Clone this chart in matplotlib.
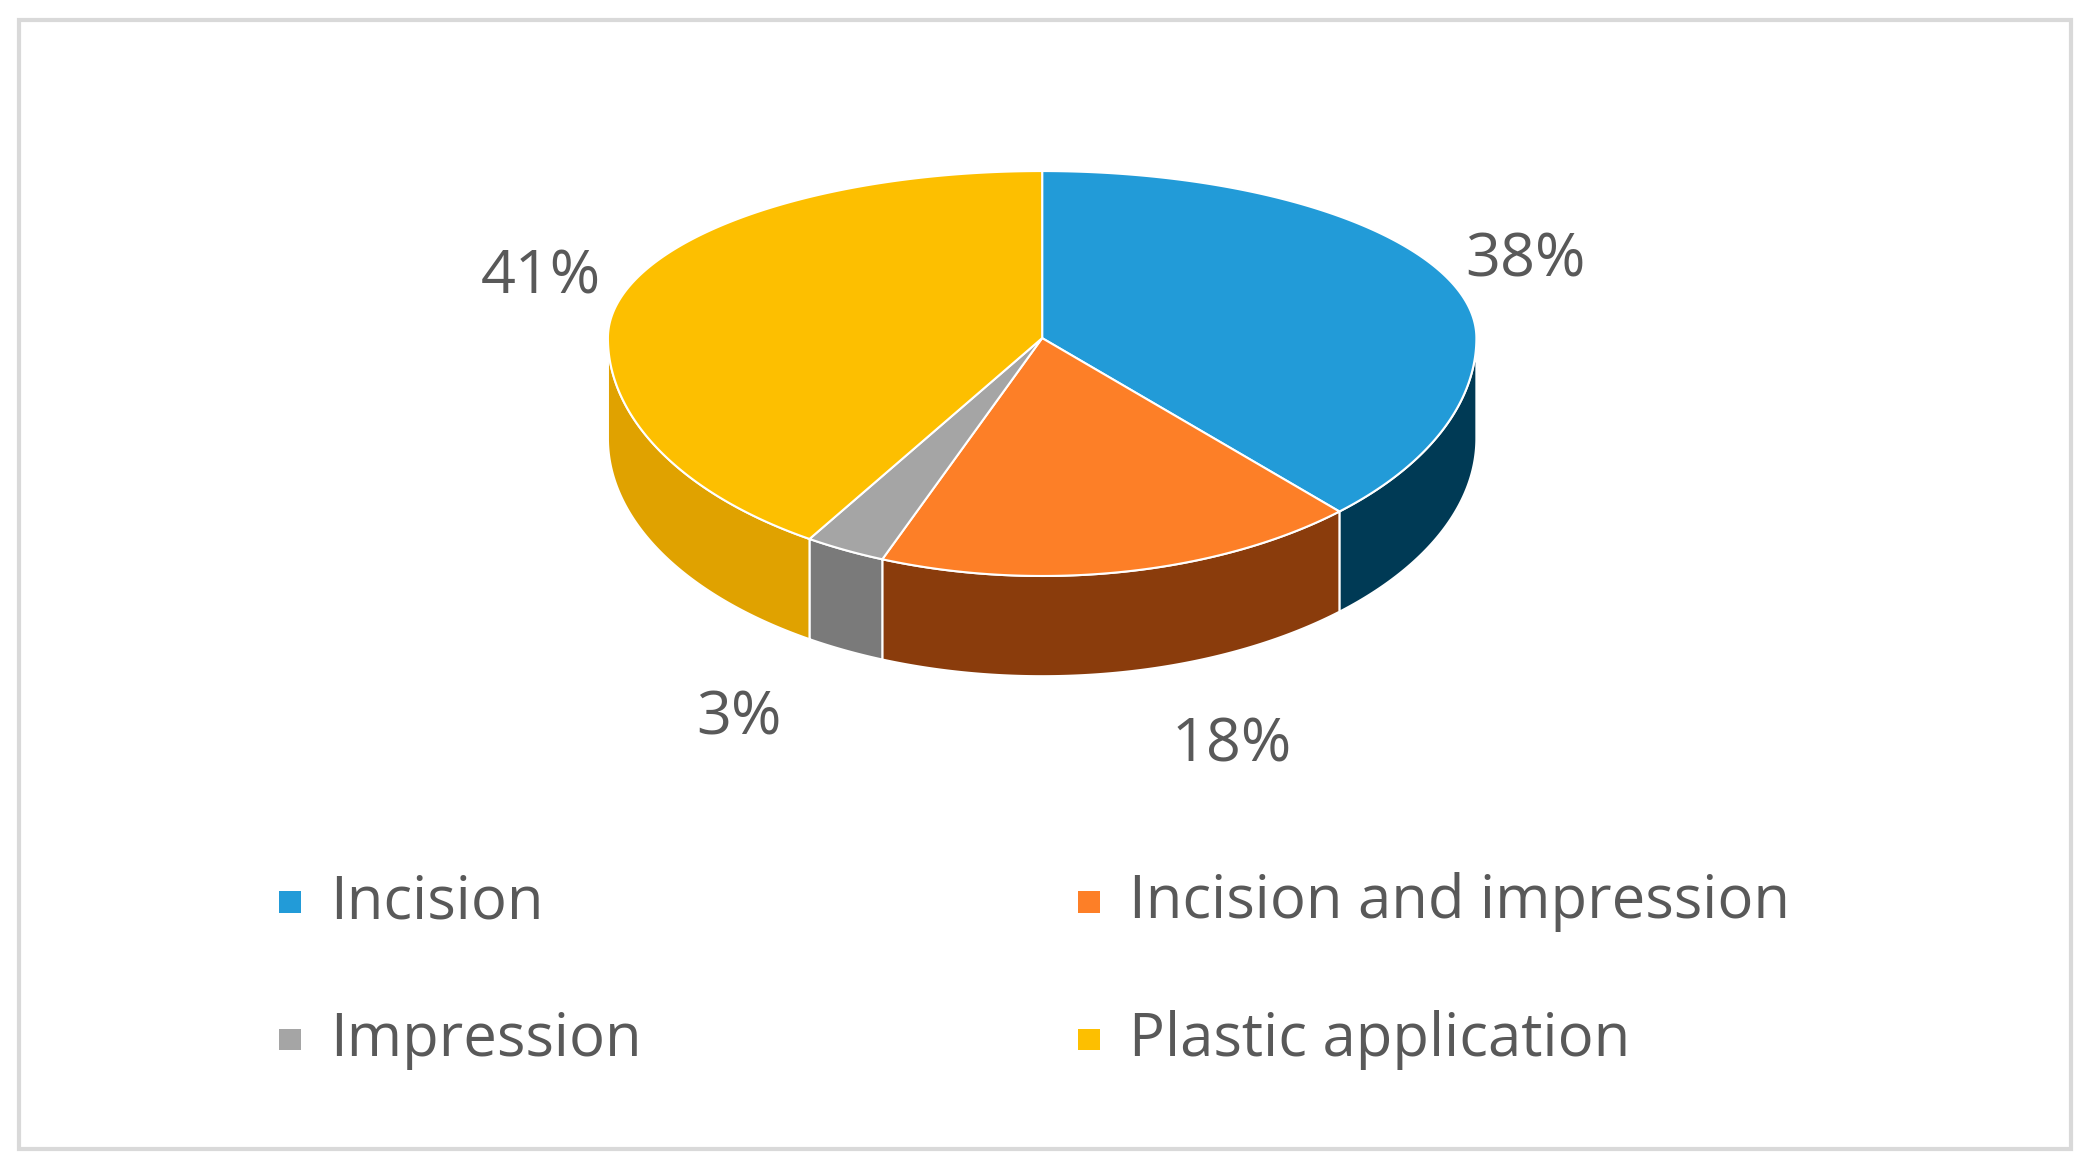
import numpy as np
import matplotlib
matplotlib.use("Agg")
import matplotlib.pyplot as plt
from matplotlib.patches import Polygon, Rectangle

plt.rcParams['font.family'] = ['Open Sans', 'DejaVu Sans']

categories = ["Incision", "Incision and impression", "Impression", "Plastic application"]
values = [38, 18, 3, 41]
top_colors = ["#229bd8", "#fd7f27", "#a5a5a5", "#fdbf00"]
wall_colors = ["#003a55", "#8a3c0c", "#7a7a7a", "#e0a200"]
label_pos = [(1142, 195), (922, 558), (553, 538), (405, 208)]

W, H = 1568, 880
fig = plt.figure(figsize=(20.95, 11.76), dpi=100)
ax = fig.add_axes([0, 0, 1, 1])
ax.set_xlim(0, W); ax.set_ylim(H, 0); ax.axis("off")
ax.add_patch(Rectangle((14, 15), 1536, 845, fill=False, ec="#d9d9d9", lw=3))

cx, cy, rx, ry_back, ry_front, depth = 780, 253, 325, 125, 178, 75
def pt(t):
    t = np.asarray(t)
    s = np.sin(t)
    ry = np.where(s >= 0, ry_back, ry_front)
    return cx + rx*np.cos(t), cy - ry*s

fr = np.array(values)/sum(values)
starts = np.pi/2 - 2*np.pi*np.concatenate([[0], np.cumsum(fr)[:-1]])
ends = starts - 2*np.pi*fr

for s, e, c in zip(starts, ends, wall_colors):
    ts = np.linspace(s, e, 300)
    ts = np.mod(ts + np.pi, 2*np.pi) - np.pi
    vis = ts[(ts <= 0) & (ts >= -np.pi)]
    if len(vis) < 2:
        continue
    vis = np.sort(vis)
    xs, ys = pt(vis)
    poly = np.column_stack([np.r_[xs, xs[::-1]], np.r_[ys, ys[::-1] + depth]])
    ax.add_patch(Polygon(poly, fc=c, ec="white", lw=1.5, zorder=2))

for s, e, c in zip(starts, ends, top_colors):
    ts = np.linspace(s, e, 300)
    xs, ys = pt(ts)
    poly = np.column_stack([np.r_[cx, xs], np.r_[cy, ys]])
    ax.add_patch(Polygon(poly, fc=c, ec="white", lw=1.5, zorder=3))

for v, (x, y) in zip(values, label_pos):
    ax.text(x, y, f"{v}%", fontsize=44, color="#595959", ha="center", va="center")

leg = [(217, 675), (815, 675), (217, 778), (815, 778)]
for (x, y), c, name in zip(leg, top_colors, categories):
    ax.add_patch(Rectangle((x - 8, y - 8), 16, 16, fc=c, ec="none"))
    ax.text(x + 30, y, name, fontsize=43, color="#595959", ha="left", va="center")

fig.savefig("out.png", dpi=100)
